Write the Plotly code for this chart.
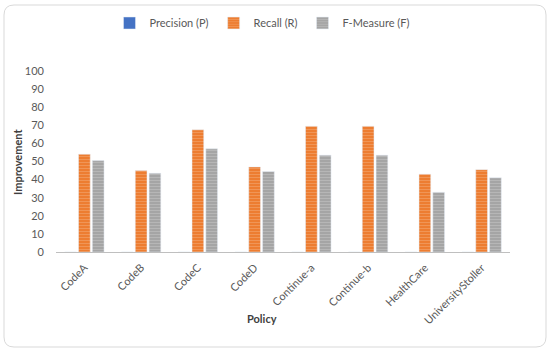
import plotly.graph_objects as go

categories = ["CodeA", "CodeB", "CodeC", "CodeD", "Continue-a", "Continue-b", "HealthCare", "UniversityStoller"]
precision = [0, 0, 0, 0, 0, 0, 0, 0]
recall = [54, 45, 67.5, 47, 69.5, 69.5, 43, 45.5]
fmeasure = [50.5, 43.5, 57, 44.5, 53.5, 53.5, 33, 41]
y_ticks = [0, 10, 20, 30, 40, 50, 60, 70, 80, 90, 100]

FONT = "Lato, Liberation Sans, sans-serif"
TXT = "#595959"

fig = go.Figure()
fig.add_trace(go.Bar(name="Precision (P)", x=categories, y=precision,
                     marker=dict(color="#4472C4")))
fig.add_trace(go.Bar(name="Recall (R)", x=categories, y=recall,
                     marker=dict(color="#ED7D31",
                                 pattern=dict(shape="-", fgcolor="#F4B183", size=3, solidity=0.3))))
fig.add_trace(go.Bar(name="F-Measure (F)", x=categories, y=fmeasure,
                     marker=dict(color="#A5A5A5",
                                 pattern=dict(shape="-", fgcolor="#C9C9C9", size=3, solidity=0.3))))

L, R, T, B = 56, 40, 71, 101
W, H = 550, 353
pw, ph = W - L - R, H - T - B

def px(x):
    return (x - L) / pw

def py(y):
    return (H - B - y) / ph

# rounded outer border
x0, x1, y0, y1, r = 4, 546, 5, 347, 10
path = (f"M {px(x0+r)},{py(y0)} L {px(x1-r)},{py(y0)} "
        f"Q {px(x1)},{py(y0)} {px(x1)},{py(y0+r)} L {px(x1)},{py(y1-r)} "
        f"Q {px(x1)},{py(y1)} {px(x1-r)},{py(y1)} L {px(x0+r)},{py(y1)} "
        f"Q {px(x0)},{py(y1)} {px(x0)},{py(y1-r)} L {px(x0)},{py(y0+r)} "
        f"Q {px(x0)},{py(y0)} {px(x0+r)},{py(y0)} Z")

fig.update_layout(
    width=W, height=H,
    margin=dict(l=L, r=R, t=T, b=B, autoexpand=False),
    paper_bgcolor="white", plot_bgcolor="white",
    barmode="group", bargap=0.27, bargroupgap=0.15,
    font=dict(family=FONT, size=11, color=TXT),
    showlegend=True,
    legend=dict(orientation="h", x=px(262), xanchor="center", y=py(23), yanchor="middle",
                font=dict(size=11, color=TXT), itemwidth=30, tracegroupgap=0,
                bgcolor="rgba(0,0,0,0)"),
    xaxis=dict(showgrid=False, showline=True, linecolor="#BFBFBF", linewidth=1,
               tickangle=-45, ticks="", ticklabelstandoff=4, tickfont=dict(size=11, color=TXT)),
    yaxis=dict(range=[0, 100], tickvals=y_ticks, showgrid=False, showline=False,
               zeroline=False, ticks="", ticklabelstandoff=11, tickfont=dict(size=11, color=TXT)),
    annotations=[
        dict(text="<b>Policy</b>", xref="paper", yref="paper", x=px(262), y=py(318),
             showarrow=False, font=dict(size=11, color="#404040"),
             xanchor="center", yanchor="middle"),
        dict(text="<b>Improvement</b>", xref="paper", yref="paper", x=px(17), y=py(162),
             showarrow=False, textangle=-90, font=dict(size=11, color="#404040"),
             xanchor="center", yanchor="middle"),
    ],
    shapes=[dict(type="path", path=path, xref="paper", yref="paper",
                 line=dict(color="#D9D9D9", width=1), layer="below")],
)

fig.write_html("out.html", config={"displayModeBar": False},
               post_script="document.body.style.margin='0';")
